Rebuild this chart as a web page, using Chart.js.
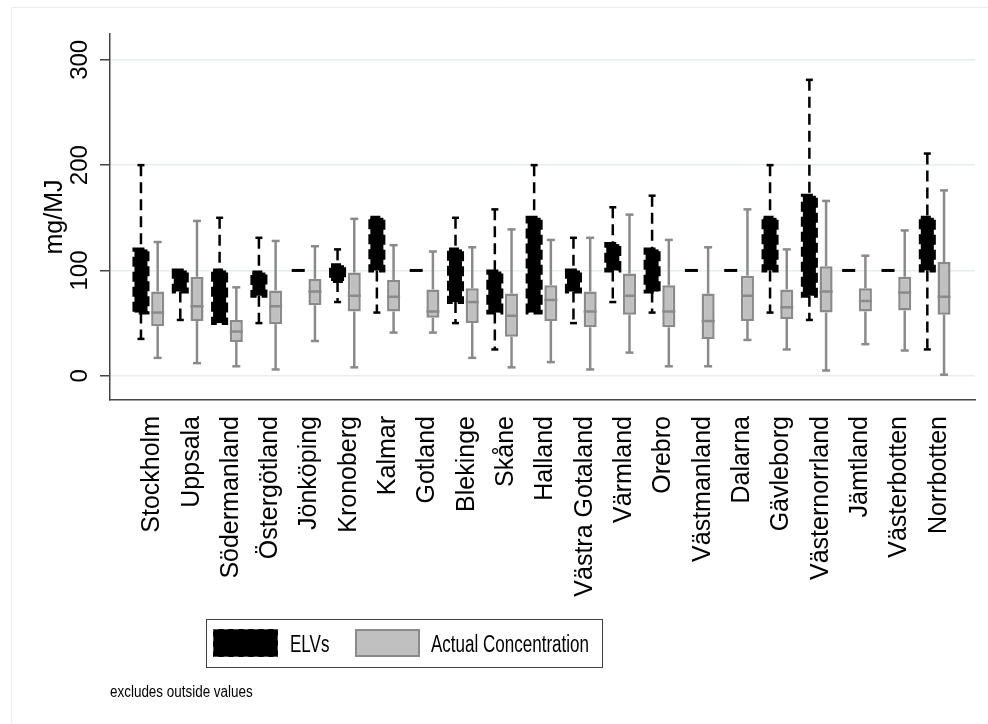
<!DOCTYPE html>
<html>
<head>
<meta charset="utf-8">
<script src="https://cdn.jsdelivr.net/npm/chart.js@4.4.0/dist/chart.umd.min.js"></script>
<style>
html, body { margin: 0; padding: 0; background: #fff; }
#wrap { width: 988px; height: 724px; }
</style>
</head>
<body>
<div id="wrap"><canvas id="chart1" width="988" height="724"></canvas></div>
<script>
var regions = ['Stockholm', 'Uppsala', 'Södermanland', 'Östergötland', 'Jönköping', 'Kronoberg', 'Kalmar',
    'Gotland', 'Blekinge', 'Skåne', 'Halland', 'Västra Gotaland', 'Värmland', 'Orebro', 'Västmanland',
    'Dalarna', 'Gävleborg', 'Västernorrland', 'Jämtland', 'Västerbotten', 'Norrbotten'];

// ELVs (emission limit values)
var elvMin = [35, 53, 50, 50, 100, 70, 60, 100, 50, 25, 60, 50, 70, 60, 100, 100, 60, 53, 100, 100, 25];
var elvQ1  = [60, 80, 50, 76, 100, 90, 100, 100, 70, 60, 60, 80, 100, 80, 100, 100, 100, 76, 100, 100, 100];
var elvMed = [90, 95, 70, 90, 100, 100, 120, 100, 100, 80, 100, 90, 110, 100, 100, 100, 120, 120, 100, 100, 120];
var elvQ3  = [120, 100, 100, 98, 100, 105, 150, 100, 120, 99, 150, 100, 125, 120, 100, 100, 150, 171, 100, 100, 150];
var elvMax = [200, 100, 150, 131, 100, 120, 150, 100, 150, 158, 200, 131, 160, 171, 100, 100, 200, 281, 100, 100, 211];

// actual concentration
var actMin = [17, 12, 9, 6, 33, 8, 41, 41, 17, 8, 13, 6, 22, 9, 9, 34, 25, 5, 30, 24, 1];
var actQ1  = [47, 52, 32, 49, 67, 61, 61, 55, 50, 37, 52, 46, 58, 46, 35, 52, 54, 60, 61, 62, 58];
var actMed = [60, 66, 42, 66, 80, 76, 75, 61, 70, 57, 72, 61, 76, 61, 52, 76, 65, 80, 71, 79, 75];
var actQ3  = [80, 94, 53, 81, 92, 98, 91, 82, 83, 78, 86, 80, 97, 86, 78, 95, 82, 104, 83, 94, 108];
var actMax = [127, 147, 84, 128, 123, 149, 124, 118, 122, 139, 129, 131, 153, 129, 122, 158, 120, 166, 114, 138, 176];

var tickValues = [0, 100, 200, 300];

var FONT = "'Liberation Sans', Arial, Helvetica, sans-serif";

// empty slot at each end gives the outer gap stata leaves
function pad(arr) { return [null].concat(arr, [null]); }
function boxes(lo, hi) { return pad(lo.map(function (v, i) { return [v, hi[i]]; })); }

function line(ctx, x1, y1, x2, y2) {
    ctx.beginPath();
    ctx.moveTo(x1, y1);
    ctx.lineTo(x2, y2);
    ctx.stroke();
}

var frame = {
    id: 'frame',
    beforeDraw: function (chart) {
        var ctx = chart.ctx;
        ctx.save();
        ctx.strokeStyle = '#ececec';
        ctx.lineWidth = 1;
        line(ctx, 11.5, 7.5, 988, 7.5);
        line(ctx, 11.5, 7.5, 11.5, 724);
        ctx.restore();
    }
};

var whiskers = {
    id: 'whiskers',
    afterDatasetsDraw: function (chart) {
        var ctx = chart.ctx, y = chart.scales.y;
        var sets = [
            { lo: elvMin, q1: elvQ1, med: elvMed, q3: elvQ3, hi: elvMax, color: '#000', dash: [11, 6], lw: 2.5, cap: 7, elv: true },
            { lo: actMin, q1: actQ1, med: actMed, q3: actQ3, hi: actMax, color: '#8a8a8a', dash: [], lw: 2.5, cap: 8, elv: false }
        ];
        sets.forEach(function (s, d) {
            var meta = chart.getDatasetMeta(d);
            s.lo.forEach(function (v, i) {
                var bar = meta.data[i + 1];
                var x = bar.x, w = bar.width;
                var pMin = y.getPixelForValue(v);
                var pQ1 = y.getPixelForValue(s.q1[i]);
                var pMed = y.getPixelForValue(s.med[i]);
                var pQ3 = y.getPixelForValue(s.q3[i]);
                var pMax = y.getPixelForValue(s.hi[i]);
                ctx.save();
                ctx.strokeStyle = s.color;
                ctx.lineWidth = s.lw;
                ctx.setLineDash(s.dash);
                if (pMax < pQ3) line(ctx, x, pMax, x, pQ3);
                if (pMin > pQ1) line(ctx, x, pQ1, x, pMin);
                ctx.setLineDash([]);
                if (pMax < pQ3) line(ctx, x - s.cap / 2, pMax, x + s.cap / 2, pMax);
                if (pMin > pQ1) line(ctx, x - s.cap / 2, pMin, x + s.cap / 2, pMin);
                if (s.elv) {
                    if (s.q1[i] === s.q3[i]) {
                        ctx.lineWidth = 3;
                        line(ctx, x - w / 2, pQ1, x + w / 2, pQ1);
                    } else {
                        ctx.lineWidth = 4;
                        ctx.setLineDash([10, 5]);
                        ctx.strokeRect(x - w / 2, pQ3, w, pQ1 - pQ3);
                    }
                } else {
                    line(ctx, x - w / 2, pMed, x + w / 2, pMed);
                }
                ctx.restore();
            });
        });
    }
};

var legendBox = {
    id: 'legendBox',
    afterDraw: function (chart) {
        var ctx = chart.ctx;
        ctx.save();
        ctx.strokeStyle = '#404040';
        ctx.lineWidth = 1;
        ctx.strokeRect(206.5, 619.5, 396, 48);

        ctx.fillStyle = '#000';
        ctx.fillRect(213, 629, 65, 28);
        ctx.strokeStyle = '#555';
        ctx.setLineDash([5, 5]);
        ctx.strokeRect(213.5, 629.5, 64, 27);
        ctx.setLineDash([]);

        ctx.fillStyle = '#c0c0c0';
        ctx.fillRect(356, 630, 63, 26);
        ctx.strokeStyle = '#8a8a8a';
        ctx.lineWidth = 2;
        ctx.strokeRect(356, 630, 63, 26);

        ctx.fillStyle = '#000';
        ctx.textBaseline = 'alphabetic';
        ctx.font = '23px ' + FONT;
        ctx.save();
        ctx.translate(290, 652);
        ctx.scale(0.74, 1);
        ctx.fillText('ELVs', 0, 0);
        ctx.restore();
        ctx.save();
        ctx.translate(431, 652);
        ctx.scale(0.74, 1);
        ctx.fillText('Actual Concentration', 0, 0);
        ctx.restore();

        ctx.font = '16px ' + FONT;
        ctx.translate(110, 697);
        ctx.scale(0.84, 1);
        ctx.fillText('excludes outside values', 0, 0);
        ctx.restore();
    }
};

var ctx1 = document.getElementById('chart1').getContext('2d');
var chart1 = new Chart(ctx1, {
    type: 'bar',
    data: {
        labels: [''].concat(regions, ['']),
        datasets: [{
            label: 'ELVs',
            data: boxes(elvQ1, elvQ3),
            backgroundColor: '#000',
            borderWidth: 0,
            barPercentage: 0.78,
            categoryPercentage: 0.85
        }, {
            label: 'Actual Concentration',
            data: boxes(actQ1, actQ3),
            backgroundColor: '#c0c0c0',
            borderColor: '#8a8a8a',
            borderWidth: 2.5,
            borderSkipped: false,
            barPercentage: 0.78,
            categoryPercentage: 0.85
        }]
    },
    options: {
        responsive: false,
        animation: false,
        layout: { padding: { left: 0, right: 13, top: 34, bottom: 0 } },
        plugins: {
            legend: { display: false },
            tooltip: { enabled: false }
        },
        scales: {
            x: {
                type: 'category',
                offset: false,
                grid: { display: false },
                border: { display: true, color: '#444', width: 1.5 },
                ticks: {
                    autoSkip: false,
                    maxRotation: 90,
                    minRotation: 90,
                    padding: 8,
                    labelOffset: 3,
                    color: '#000',
                    font: { family: FONT, size: 25 }
                },
                afterFit: function (s) {
                    s.height = 324;
                    s.paddingLeft = 0;
                    s.paddingRight = 0;
                }
            },
            y: {
                min: -23,
                max: 324.5,
                grid: { color: '#e6eef1', lineWidth: 1.5, tickLength: 10, tickColor: '#444', tickWidth: 1.5 },
                border: { color: '#444', width: 1.5 },
                ticks: {
                    minRotation: 90,
                    maxRotation: 90,
                    crossAlign: 'center',
                    padding: 0,
                    color: '#000',
                    font: { family: FONT, size: 24 }
                },
                afterBuildTicks: function (s) {
                    s.ticks = tickValues.map(function (v) { return { value: v }; });
                },
                title: {
                    display: true,
                    text: 'mg/MJ',
                    color: '#000',
                    font: { family: FONT, size: 25 },
                    padding: { top: 40, bottom: 0 }
                },
                afterFit: function (s) {
                    s.width = 110;
                    s.paddingTop = 0;
                    s.paddingBottom = 0;
                }
            }
        }
    },
    plugins: [frame, whiskers, legendBox]
});
</script>
</body>
</html>
